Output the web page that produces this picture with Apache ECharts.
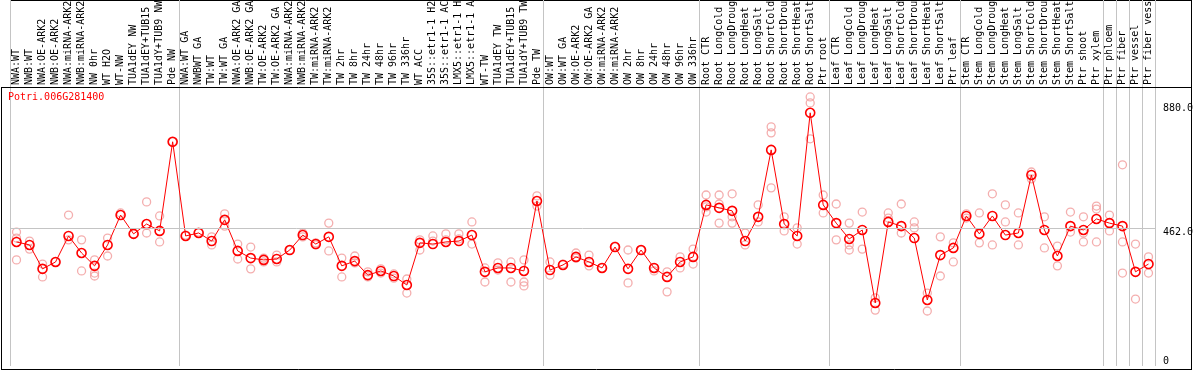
<!DOCTYPE html>
<html>
<head>
<meta charset="utf-8">
<script src="https://cdn.jsdelivr.net/npm/echarts@6/dist/echarts.min.js"></script>
<style>
html,body{margin:0;padding:0;background:#fff;}
#c{width:1194px;height:370px;}
</style>
</head>
<body>
<div id="c"></div>
<script>
const title = 'Potri.006G281400';
const categories = [
 'NWA:WT','NWB:WT','NWA:OE-ARK2','NWB:OE-ARK2','NWA:miRNA-ARK2','NWB:miRNA-ARK2','NW 0hr','WT H2O','WT-NW','TUA1dEY NW','TUA1dEY+TUB15','TUA1dY+TUB9 NW','Pde NW',
 'NWA:WT GA','NWBWT GA','TW:WT','TW:WT GA','NWA:OE-ARK2 GA','NWB:OE-ARK2 GA','TW:OE-ARK2','TW:OE-ARK2 GA','NWA:miRNA-ARK2','NWB:miRNA-ARK2','TW:miRNA-ARK2','TW:miRNA-ARK2',
 'TW 2hr','TW 8hr','TW 24hr','TW 48hr','TW 96hr','TW 336hr','WT ACC','35S::etr1-1 H2O','35S::etr1-1 ACC','LMX5::etr1-1 H2O','LMX5::etr1-1 ACC','WT-TW','TUA1dEY TW','TUA1dEY+TUB15','TUA1dY+TUB9 TW','Pde TW',
 'OW:WT','OW:WT GA','OW:OE-ARK2','OW:OE-ARK2 GA','OW:miRNA-ARK2','OW:miRNA-ARK2','OW 2hr','OW 8hr','OW 24hr','OW 48hr','OW 96hr','OW 336hr',
 'Root CTR','Root LongCold','Root LongDrought','Root LongHeat','Root LongSalt','Root ShortCold','Root ShortDrought','Root ShortHeat','Root ShortSalt','Ptr root',
 'Leaf CTR','Leaf LongCold','Leaf LongDrought','Leaf LongHeat','Leaf LongSalt','Leaf ShortCold','Leaf ShortDrought','Leaf ShortHeat','Leaf ShortSalt','Ptr leaf',
 'Stem CTR','Stem LongCold','Stem LongDrought','Stem LongHeat','Stem LongSalt','Stem ShortCold','Stem ShortDrought','Stem ShortHeat','Stem ShortSalt','Ptr shoot',
 'Ptr xylem','Ptr phloem','Ptr fiber','Ptr vessel','Ptr fiber vessel'
];
// first category index of each separated group
const groupStarts = [0,13,41,53,63,73,84,85,86,87];
const meanValues = [
 415,405,325,348,435,378,335,405,505,442,475,452,750,
 435,445,418,489,385,361,355,358,388,438,408,432,
 335,351,304,318,301,271,412,408,415,418,438,315,328,328,318,552,
 321,338,365,348,328,398,325,388,328,298,348,365,
 539,529,519,418,499,723,475,435,847,539,
 478,425,455,211,482,468,428,221,371,395,
 502,442,502,438,445,639,455,368,468,455,
 492,478,468,315,341
];
const rep1 = [
 448,418,341,348,505,422,355,428,512,442,549,502,750,
 438,448,432,509,408,398,361,371,388,445,412,478,
 361,368,315,325,308,291,422,435,442,442,482,328,345,348,355,569,
 348,341,378,371,328,401,388,388,328,315,365,391,
 572,572,576,445,539,800,499,462,900,572,
 542,478,515,228,512,542,482,244,432,412,
 509,512,576,539,512,649,499,401,515,499,
 535,505,673,408,365
];
const rep2 = [
 428,391,298,null,422,318,311,368,null,null,445,415,null,
 null,null,405,468,358,325,348,348,null,432,405,385,
 298,345,298,311,294,244,388,418,422,425,408,281,321,281,281,535,
 304,null,361,335,null,null,278,null,318,248,328,341,
 532,542,499,405,482,780,452,408,880,512,
 422,405,391,187,495,445,462,184,301,348,
 495,412,405,482,405,626,395,335,448,445,
 525,452,415,224,311
];
const rep3 = [
 355,null,null,null,null,null,301,null,null,null,null,null,null,
 null,null,null,null,null,null,null,null,null,null,null,null,
 null,null,null,null,null,null,null,null,null,null,null,null,null,null,268,null,
 null,null,null,null,null,null,null,null,null,null,null,null,
 515,478,478,null,null,596,null,null,760,null,
 null,388,null,null,null,null,null,null,null,null,
 null,null,null,null,null,null,null,null,null,415,
 415,null,311,null,null
];
const yTicksUpper = [462, 880];
const yTicksBase = [0];
const yMax = 930;

const repPoints = [];
[rep1, rep2, rep3].forEach(function (arr) {
  arr.forEach(function (v, i) { if (v !== null) repPoints.push([i, v]); });
});
const font = 'DejaVu Sans Mono';
const sepFn = function (idx) { return groupStarts.indexOf(idx) >= 0; };
const gridL = 10, gridW = 1145;
const yFmt = function (v) { return v === 0 ? '0' : v.toFixed(1); };

const chart = echarts.init(document.getElementById('c'), null, {renderer: 'canvas'});
chart.setOption({
  animation: false,
  backgroundColor: '#fff',
  title: {
    text: title, left: 8, top: 92, padding: 0,
    textStyle: {color: '#ff0000', fontSize: 10, fontWeight: 'normal', fontFamily: font}
  },
  grid: [
    {left: gridL, width: gridW, top: 0, height: 87, containLabel: false, outerBoundsMode: 'none'},
    {left: gridL, width: gridW, top: 88, bottom: 4, containLabel: false, outerBoundsMode: 'none'}
  ],
  xAxis: [
    {
      type: 'category', gridIndex: 0, data: categories, boundaryGap: true,
      axisLine: {show: false}, axisTick: {show: false}, axisLabel: {show: false},
      splitLine: {show: true, interval: sepFn, lineStyle: {color: '#c4c4c4', width: 1}}
    },
    {
      type: 'category', gridIndex: 1, data: categories, boundaryGap: true, position: 'top',
      axisLine: {show: false}, axisTick: {show: false},
      axisLabel: {show: true, interval: 0, rotate: 90, margin: 3, align: 'left', verticalAlign: 'middle',
        hideOverlap: false, fontSize: 10, fontFamily: font, color: '#000'},
      splitLine: {show: true, interval: sepFn, lineStyle: {color: '#c4c4c4', width: 1}}
    }
  ],
  yAxis: [
    {type: 'value', gridIndex: 0, show: false},
    {
      type: 'value', gridIndex: 1, position: 'right', min: 0, max: yMax,
      axisLine: {show: false}, axisTick: {show: false}, splitLine: {show: false},
      axisLabel: {
        show: true, customValues: yTicksUpper, margin: 8, verticalAlign: 'top',
        fontSize: 10, fontFamily: font, color: '#000', formatter: yFmt
      }
    },
    {
      type: 'value', gridIndex: 1, position: 'right', min: 0, max: yMax,
      axisLine: {show: false}, axisTick: {show: false}, splitLine: {show: false},
      axisLabel: {
        show: true, customValues: yTicksBase, margin: 8, verticalAlign: 'bottom',
        fontSize: 10, fontFamily: font, color: '#000', formatter: yFmt
      }
    }
  ],
  graphic: [
    {type: 'line', silent: true, shape: {x1: 10, y1: 0.5, x2: 1192, y2: 0.5}, style: {stroke: '#000', lineWidth: 1}},
    {type: 'line', silent: true, shape: {x1: 1191.5, y1: 0, x2: 1191.5, y2: 370}, style: {stroke: '#000', lineWidth: 1}},
    {type: 'line', silent: true, shape: {x1: 1, y1: 87.5, x2: 1192, y2: 87.5}, style: {stroke: '#000', lineWidth: 1}},
    {type: 'line', silent: true, shape: {x1: 1.5, y1: 87, x2: 1.5, y2: 370}, style: {stroke: '#000', lineWidth: 1}},
    {type: 'line', silent: true, shape: {x1: 1, y1: 369.5, x2: 1192, y2: 369.5}, style: {stroke: '#000', lineWidth: 1}}
  ],
  series: [
    {
      type: 'scatter', xAxisIndex: 1, yAxisIndex: 1, data: repPoints, z: 2,
      symbol: 'circle', symbolSize: 8,
      itemStyle: {color: 'rgba(255,255,255,0)', borderColor: '#f19a9a', borderWidth: 1.3}
    },
    {
      type: 'line', xAxisIndex: 1, yAxisIndex: 1, data: meanValues, z: 3,
      symbol: 'circle', symbolSize: 9, showAllSymbol: true,
      lineStyle: {color: '#ff0000', width: 1},
      itemStyle: {color: 'rgba(255,255,255,0)', borderColor: '#ff0000', borderWidth: 1.6},
      markLine: {
        silent: true, symbol: 'none', label: {show: false},
        lineStyle: {color: '#c4c4c4', type: 'solid', width: 1},
        data: [{yAxis: 462}]
      }
    }
  ]
});
</script>
</body>
</html>
